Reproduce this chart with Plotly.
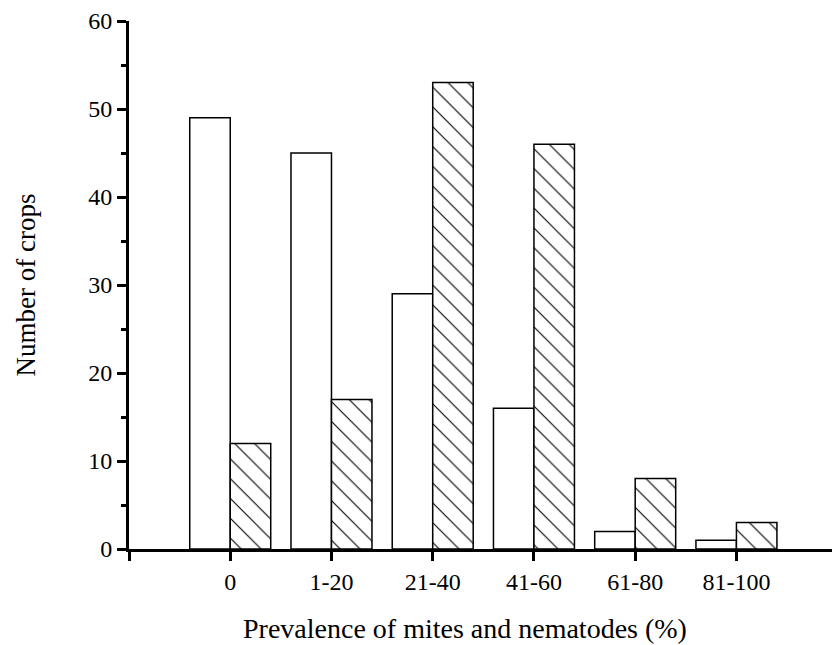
import plotly.graph_objects as go

# Prevalence classes (%) and number of crops in each class
categories = ["0", "1-20", "21-40", "41-60", "61-80", "81-100"]
mites = [49, 45, 29, 16, 2, 1]
nematodes = [12, 17, 53, 46, 8, 3]

positions = list(range(len(categories)))
font_family = "Liberation Serif, Times New Roman, serif"

fig = go.Figure()
fig.add_trace(go.Bar(
    x=positions, y=mites, width=0.4, offset=-0.4,
    marker=dict(color="white", line=dict(color="black", width=1.5)),
    name="Mites",
))
fig.add_trace(go.Bar(
    x=positions, y=nematodes, width=0.4, offset=0,
    marker=dict(color="white", line=dict(color="black", width=1.5),
                pattern=dict(shape="\\", fgcolor="black", bgcolor="white",
                             fgopacity=1, size=14, solidity=0.08)),
    name="Nematodes",
))

fig.update_layout(
    width=832, height=645,
    margin=dict(l=129, r=0, t=21, b=96),
    paper_bgcolor="white", plot_bgcolor="white",
    showlegend=False,
    font=dict(family=font_family, size=24, color="black"),
    xaxis=dict(
        range=[-1, 5.944],
        tickmode="array",
        tickvals=[-1] + positions,
        ticktext=[""] + categories,
        showline=True, linecolor="black", linewidth=3,
        ticks="outside", ticklen=9, tickwidth=3, tickcolor="black",
        showgrid=False, zeroline=False,
    ),
    yaxis=dict(
        range=[0, 60],
        tickvals=[0, 10, 20, 30, 40, 50, 60],
        showline=True, linecolor="black", linewidth=3,
        ticks="outside", ticklen=9, tickwidth=3, tickcolor="black",
        minor=dict(tickvals=[5, 15, 25, 35, 45, 55], ticks="outside",
                   ticklen=5, tickwidth=3, tickcolor="black"),
        showgrid=False, zeroline=False,
        title=dict(text="Number of crops", font=dict(size=27), standoff=45),
    ),
)

# x-axis title, set slightly left of the plot centre
fig.add_annotation(
    text="Prevalence of mites and nematodes (%)",
    xref="paper", yref="paper", x=0.478, y=0,
    xanchor="center", yanchor="middle", yshift=-79,
    showarrow=False, font=dict(size=28),
)

fig.write_html("out.html")
